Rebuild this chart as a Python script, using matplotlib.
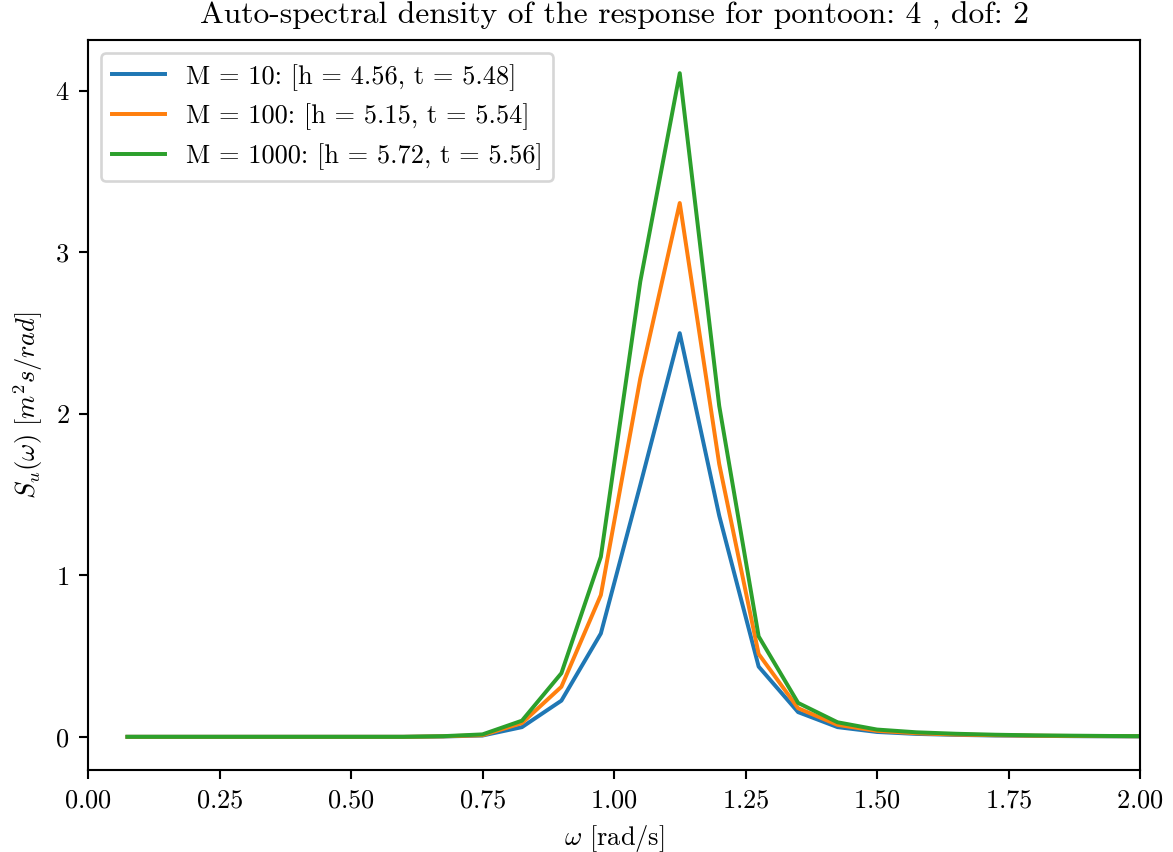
import numpy as np
from matplotlib import pyplot as plt

plt.rcParams['font.family'] = 'serif'
plt.rcParams['font.serif'] = ['cmr10']
plt.rcParams['mathtext.fontset'] = 'cm'
plt.rcParams['axes.formatter.use_mathtext'] = True
plt.rcParams['axes.unicode_minus'] = False
plt.rcParams['font.size'] = 10

omega = [0.075, 0.15, 0.225, 0.3, 0.375, 0.45, 0.525, 0.6, 0.675, 0.75,
         0.825, 0.9, 0.975, 1.05, 1.125, 1.2, 1.275, 1.35, 1.425, 1.5,
         1.575, 1.65, 1.725, 1.8, 1.875, 1.95, 2.025]

s_m10 = [0, 0, 0, 0, 0, 0, 0, 0, 0.002, 0.008,
         0.06, 0.224, 0.64, 1.56, 2.50, 1.37, 0.435, 0.153, 0.06, 0.03,
         0.018, 0.012, 0.008, 0.006, 0.004, 0.003, 0.002]
s_m100 = [0, 0, 0, 0, 0, 0, 0, 0, 0.003, 0.01,
          0.085, 0.31, 0.878, 2.22, 3.306, 1.69, 0.513, 0.177, 0.074, 0.037,
          0.022, 0.014, 0.01, 0.007, 0.005, 0.004, 0.003]
s_m1000 = [0, 0, 0, 0, 0, 0, 0, 0, 0.004, 0.015,
           0.10, 0.394, 1.115, 2.82, 4.11, 2.05, 0.622, 0.21, 0.09, 0.045,
           0.028, 0.019, 0.013, 0.009, 0.007, 0.005, 0.004]

labels = ["M = 10: [h = 4.56, t = 5.48]",
          "M = 100: [h = 5.15, t = 5.54]",
          "M = 1000: [h = 5.72, t = 5.56]"]

dpi = 190
fig, ax = plt.subplots(figsize=(1173/dpi, 852/dpi), dpi=dpi)
fig.subplots_adjust(left=88/1173, right=1140/1173, top=1-40/852, bottom=1-770/852)

for s, lab in zip((s_m10, s_m100, s_m1000), labels):
    ax.plot(omega, s, lw=1.5, label=lab)

ax.set_xlim(0, 2)
ax.set_title("Auto-spectral density of the response for pontoon: 4 , dof: 2", fontsize=12)
ax.set_xlabel(r"$\omega$ [rad/s]")
ax.set_ylabel(r"$S_u(\omega)\ [m^2s/rad]$")
ax.legend(loc="upper left")

fig.savefig("out.png", dpi=dpi)
